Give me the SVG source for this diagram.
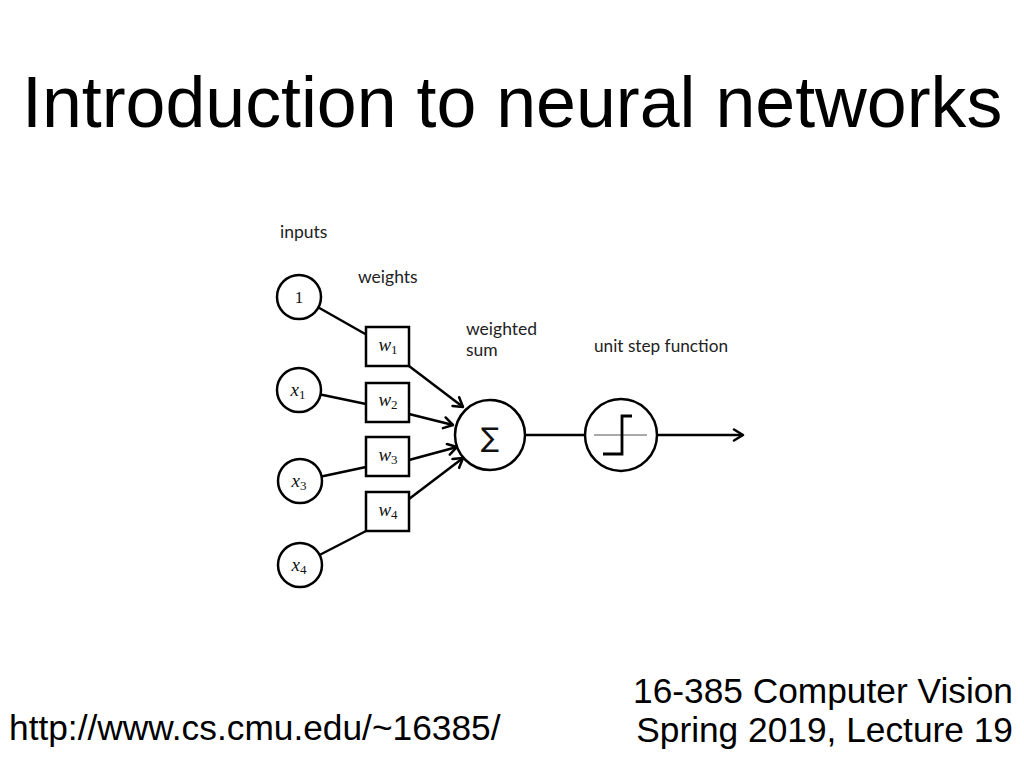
<svg xmlns="http://www.w3.org/2000/svg" width="1024" height="768" viewBox="0 0 1024 768">
<style>
.title{font-family:"Liberation Sans",Arial,sans-serif;font-size:71.7px;fill:#000}
.foot{font-family:"Liberation Sans",Arial,sans-serif;font-size:35.3px;fill:#000}
.lbl{font-family:Lato,"Open Sans",sans-serif;font-size:17.5px;fill:#222}
.math{font-family:"Liberation Serif","DejaVu Serif",serif;font-style:italic;font-size:19px;fill:#111}
.up{font-family:"Liberation Serif","DejaVu Serif",serif;font-size:17px;fill:#111}
.sub{font-size:13px;font-style:normal}
.node{fill:#fff;stroke:#000;stroke-width:2.5}
.edge{fill:none;stroke:#000;stroke-width:2.5}
</style>
<defs>
<marker id="arr" viewBox="-12 -7 14 14" refX="0" refY="0" markerWidth="14" markerHeight="14" markerUnits="userSpaceOnUse" orient="auto">
<path d="M-9,-5.5 L0,0 L-9,5.5" fill="none" stroke="#000" stroke-width="2.5" stroke-linecap="round" stroke-linejoin="round"/>
</marker>
</defs>
<rect width="1024" height="768" fill="#fff"/>
<text class="title" x="22" y="127">Introduction to neural networks</text>
<text class="foot" x="9" y="740">http://www.cs.cmu.edu/~16385/</text>
<text class="foot" x="1013" y="703" text-anchor="end">16-385 Computer Vision</text>
<text class="foot" x="1013" y="742" text-anchor="end">Spring 2019, Lecture 19</text>

<text class="lbl" x="280" y="238">inputs</text>
<text class="lbl" x="358" y="283">weights</text>
<text class="lbl" x="466" y="335">weighted</text>
<text class="lbl" x="466" y="356">sum</text>
<text class="lbl" x="594" y="352" textLength="134" lengthAdjust="spacingAndGlyphs">unit step function</text>

<g id="connectors">
<line class="edge" x1="318.5" y1="307.5" x2="367" y2="335"/>
<line class="edge" x1="409" y1="366" x2="463" y2="407" marker-end="url(#arr)"/>
<line class="edge" x1="320.5" y1="394.5" x2="366" y2="404"/>
<line class="edge" x1="409" y1="414" x2="453" y2="425" marker-end="url(#arr)"/>
<line class="edge" x1="321.5" y1="476.5" x2="366" y2="467"/>
<line class="edge" x1="409" y1="460" x2="457" y2="447" marker-end="url(#arr)"/>
<line class="edge" x1="319.5" y1="555" x2="366" y2="531"/>
<line class="edge" x1="409" y1="499" x2="463" y2="458" marker-end="url(#arr)"/>
<line class="edge" x1="525" y1="435" x2="585" y2="435"/>
<line class="edge" x1="657" y1="435" x2="743" y2="435" marker-end="url(#arr)"/>
</g>

<g id="in1"><circle class="node" cx="299" cy="297" r="22"/><text class="up" x="299" y="303" text-anchor="middle">1</text></g>
<g id="inx1"><circle class="node" cx="299" cy="390" r="22"/><text class="math" x="298" y="396" text-anchor="middle">x<tspan class="sub" dy="3">1</tspan></text></g>
<g id="inx3"><circle class="node" cx="300" cy="481" r="22"/><text class="math" x="299" y="487" text-anchor="middle">x<tspan class="sub" dy="3">3</tspan></text></g>
<g id="inx4"><circle class="node" cx="300" cy="565" r="22"/><text class="math" x="299" y="571" text-anchor="middle">x<tspan class="sub" dy="3">4</tspan></text></g>

<g id="w1"><rect class="node" x="366" y="327" width="43" height="39"/><text class="math" x="388" y="351" text-anchor="middle">w<tspan class="sub" dy="3">1</tspan></text></g>
<g id="w2"><rect class="node" x="366" y="383" width="43" height="39"/><text class="math" x="388" y="406" text-anchor="middle">w<tspan class="sub" dy="3">2</tspan></text></g>
<g id="w3"><rect class="node" x="366" y="437" width="43" height="39"/><text class="math" x="388" y="461" text-anchor="middle">w<tspan class="sub" dy="3">3</tspan></text></g>
<g id="w4"><rect class="node" x="366" y="492" width="43" height="39"/><text class="math" x="388" y="516" text-anchor="middle">w<tspan class="sub" dy="3">4</tspan></text></g>

<g id="sum"><circle class="node" cx="490" cy="435" r="35"/><text x="490" y="447" text-anchor="middle" font-family="'DejaVu Sans',sans-serif" font-size="27" fill="#111">∑</text></g>

<g id="step"><circle class="node" cx="621" cy="435" r="36"/>
<line x1="594" y1="435" x2="647" y2="435" stroke="#555" stroke-width="1"/>
<polyline points="603,454 622,454 622,416 632,416" fill="none" stroke="#000" stroke-width="2.8"/>
</g>
</svg>
